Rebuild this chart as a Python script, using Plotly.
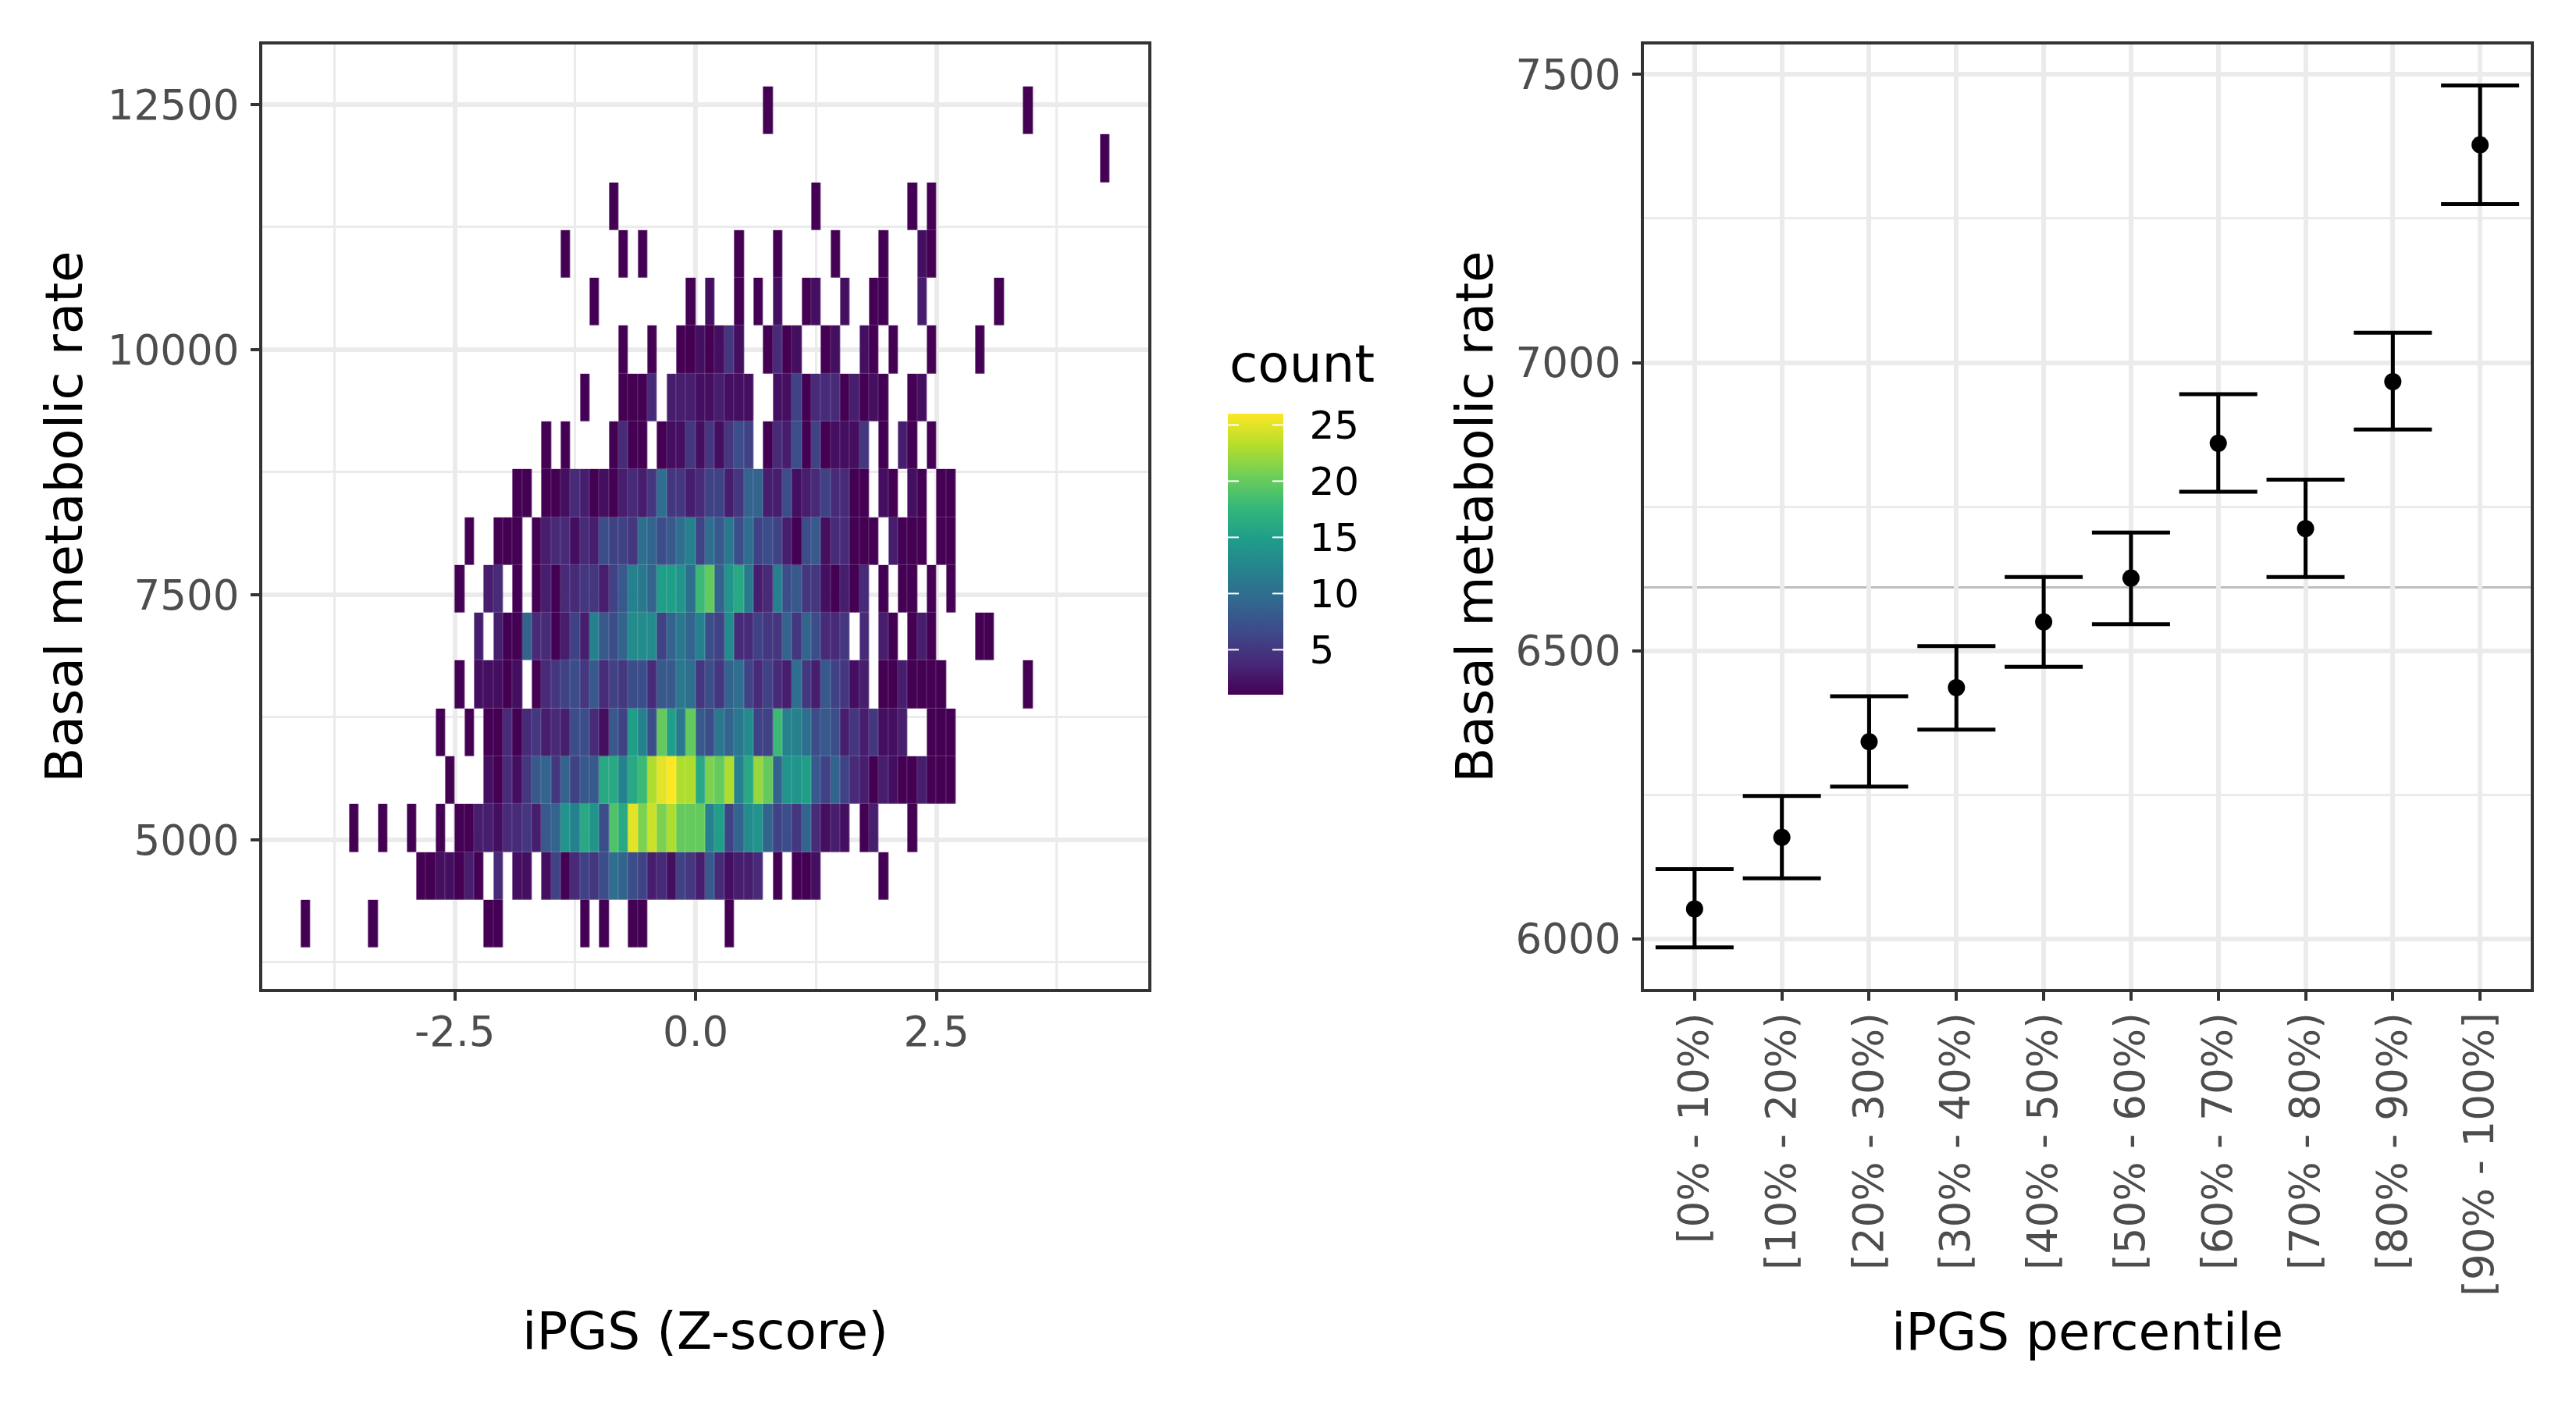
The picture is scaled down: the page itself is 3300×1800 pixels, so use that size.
import plotly.graph_objects as go

# Left panel: 2D histogram counts. Keys are the column index
# (column k spans k*0.1 .. (k+1)*0.1 of iPGS Z-score); one dict per row, bottom row first.
x_bin_width = 0.1
y_bin_bottom = 3901
y_bin_height = 488

row_00 = {-41:1,-34:1,-22:1,-21:1,-12:1,-10:1,-7:1,-6:1,3:1}
row_01 = {-29:1,-28:1,-27:2,-26:2,-25:1,-24:3,-23:1,-21:4,-19:2,-18:2,-16:2,-15:6,-14:1,-13:4,-12:6,-11:5,-10:7,-9:10,-8:9,-7:7,-6:6,-5:3,-4:4,-3:2,-2:6,-1:5,0:3,1:8,2:4,3:2,4:3,5:3,6:4,8:1,10:1,11:1,12:2,19:1}
row_02 = {-36:1,-33:1,-30:1,-27:1,-25:1,-24:1,-23:3,-22:3,-21:2,-20:4,-19:4,-18:5,-17:3,-16:8,-15:9,-14:14,-13:12,-12:16,-11:14,-10:7,-9:19,-8:16,-7:25,-6:21,-5:24,-4:21,-3:23,-2:20,-1:20,0:20,1:12,2:15,3:6,4:9,5:13,6:14,7:9,8:6,9:7,10:5,11:9,12:4,13:2,14:3,15:2,17:1,18:3,22:1}
row_03 = {-26:1,-22:2,-21:1,-20:4,-19:2,-18:5,-17:8,-16:9,-15:5,-14:9,-13:6,-12:8,-11:8,-10:16,-9:16,-8:12,-7:16,-6:18,-5:23,-4:25,-3:26,-2:23,-1:23,0:16,1:21,2:20,3:23,4:12,5:16,6:22,7:20,8:9,9:14,10:14,11:15,12:8,13:6,14:9,15:6,16:4,17:3,18:1,19:3,20:2,21:1,22:1,23:3,24:1,25:1,26:1}
row_04 = {-27:1,-24:1,-22:1,-21:1,-20:4,-19:1,-18:4,-17:5,-16:3,-15:4,-14:3,-13:7,-12:7,-11:4,-10:2,-9:8,-8:6,-7:15,-6:12,-5:7,-4:20,-3:15,-2:11,-1:20,0:8,1:7,2:11,3:9,4:11,5:13,6:6,7:6,8:18,9:12,10:12,11:10,12:7,13:8,14:7,15:3,16:5,17:3,18:5,19:2,20:2,21:3,24:1,25:1,26:1}
row_05 = {-25:1,-23:2,-22:2,-21:2,-20:1,-19:2,-17:1,-16:4,-15:5,-14:6,-13:7,-12:5,-11:8,-10:4,-9:6,-8:5,-7:7,-6:7,-5:4,-4:8,-3:8,-2:11,-1:10,0:5,1:7,2:5,3:9,4:10,5:6,6:4,7:6,8:4,9:3,10:10,11:5,12:3,13:8,14:6,15:5,16:2,17:3,19:1,20:1,21:3,22:1,23:1,24:1,25:1,34:1}
row_06 = {-23:3,-21:3,-20:1,-19:1,-18:9,-17:4,-16:4,-15:1,-14:3,-13:6,-12:3,-11:12,-10:8,-9:7,-8:9,-7:13,-6:13,-5:13,-4:6,-3:9,-2:11,-1:9,0:12,1:7,2:6,3:13,4:4,5:4,6:6,7:5,8:5,9:9,10:5,11:9,12:7,13:4,14:4,15:5,17:4,19:3,20:1,22:1,23:3,24:1,29:1,30:1}
row_07 = {-25:1,-22:3,-21:4,-19:1,-17:1,-16:3,-15:1,-14:4,-13:4,-12:5,-11:5,-10:3,-9:6,-8:8,-7:12,-6:11,-5:9,-4:15,-3:15,-2:14,-1:10,0:18,1:20,2:9,3:14,4:16,5:11,6:3,7:4,8:12,9:7,10:8,11:5,12:5,13:2,14:1,15:3,16:1,17:4,19:1,21:1,22:1,24:1,26:1}
row_08 = {-24:1,-21:1,-20:1,-19:1,-17:1,-16:3,-15:4,-14:4,-13:2,-12:4,-11:3,-10:7,-9:6,-8:6,-7:5,-6:10,-5:9,-4:7,-3:8,-2:10,-1:12,0:6,1:10,2:8,3:11,4:7,5:10,6:6,7:7,8:6,9:3,10:1,11:7,12:8,13:2,14:4,15:4,16:1,17:1,18:1,20:3,21:1,22:1,23:1,25:1,26:1}
row_09 = {-19:1,-18:1,-16:1,-15:1,-14:2,-13:4,-12:3,-11:1,-10:2,-9:1,-8:3,-7:4,-6:3,-5:5,-4:10,-3:5,-2:5,-1:3,0:4,1:6,2:6,3:3,4:5,5:9,6:9,7:3,8:3,9:7,10:2,11:3,12:4,13:6,14:4,15:4,16:1,17:1,19:2,20:1,22:2,23:1,25:1,26:1}
row_10 = {-16:1,-14:1,-9:1,-8:4,-7:1,-6:1,-4:1,-3:2,-2:2,-1:5,0:2,1:5,2:2,3:5,4:7,5:6,7:1,8:4,9:3,10:7,11:1,12:6,13:1,14:2,15:2,16:2,17:5,19:1,21:3,22:1,24:1}
row_11 = {-12:1,-8:1,-7:1,-6:1,-5:4,-3:3,-2:3,-1:3,0:2,1:2,2:3,3:2,4:2,5:2,8:2,9:2,10:6,11:1,12:4,13:4,14:4,15:1,16:3,17:1,18:2,19:1,22:1,23:2}
row_12 = {-8:1,-5:1,-2:1,-1:1,0:2,1:1,2:2,3:5,4:2,7:1,8:4,9:1,10:2,13:1,14:2,17:2,18:1,20:1,24:1,29:1}
row_13 = {-11:1,-1:1,1:2,4:1,6:1,8:2,11:1,12:2,15:2,18:1,19:1,23:3,31:1}
row_14 = {-14:1,-8:1,-6:1,4:1,8:1,14:1,19:1,23:2,24:1}
row_15 = {-9:1,12:1,22:1,24:1}
row_16 = {42:1}
row_17 = {7:1,34:1}
count_rows = [row_00,row_01,row_02,row_03,row_04,row_05,row_06,row_07,row_08,
              row_09,row_10,row_11,row_12,row_13,row_14,row_15,row_16,row_17]

z_major_ticks = [-2.5, 0, 2.5]
z_minor_ticks = [-3.75, -1.25, 1.25, 3.75]
bmr_major_ticks = [5000, 7500, 10000, 12500]
bmr_minor_ticks = [3750, 6250, 8750, 11250]
count_ticks = [5, 10, 15, 20, 25]

# Right panel
percentile_labels = ["[0% - 10%)","[10% - 20%)","[20% - 30%)","[30% - 40%)","[40% - 50%)",
                     "[50% - 60%)","[60% - 70%)","[70% - 80%)","[80% - 90%)","[90% - 100%]"]
mean_bmr = [6052, 6176, 6342, 6436, 6550, 6626, 6860, 6712, 6967, 7378]
upper_bmr = [6121, 6248, 6421, 6508, 6628, 6705, 6945, 6797, 7052, 7481]
lower_bmr = [5985, 6105, 6264, 6363, 6472, 6546, 6776, 6628, 6884, 7275]
overall_mean = 6610
pct_major_ticks = [6000, 6500, 7000, 7500]
pct_minor_ticks = [6250, 6750, 7250]

W, H = 3300, 1800
GRID = "#ebebeb"
INK = "#333333"
TICK_TXT = "#4d4d4d"
FONT = "DejaVu Sans"
TICK_SIZE = 53
TITLE_SIZE = 66

k_min = min(min(r) for r in count_rows)
k_max = max(max(r) for r in count_rows)
cols = list(range(k_min, k_max + 1))
x_centers = [(k + 0.5) * x_bin_width for k in cols]
y_centers = [y_bin_bottom + (i + 0.5) * y_bin_height for i in range(len(count_rows))]
z = [[r.get(k) for k in cols] for r in count_rows]

CB_LEFT, CB_RIGHT, CB_TOP, CB_BOTTOM = 1573, 1644, 530, 890
Z_MIN, Z_MAX = 1, 26

fig = go.Figure()
fig.add_trace(go.Heatmap(
    x=x_centers, y=y_centers, z=z, xaxis="x", yaxis="y", xgap=0.2, ygap=0.2,
    colorscale="Viridis", zmin=Z_MIN, zmax=Z_MAX, hoverongaps=False,
    colorbar=dict(
        x=CB_LEFT / W, xanchor="left", xpad=0, ypad=0,
        y=1 - CB_BOTTOM / H, yanchor="bottom",
        len=(CB_BOTTOM - CB_TOP) / H, lenmode="fraction",
        thickness=CB_RIGHT - CB_LEFT, thicknessmode="pixels",
        # outside ticks in white only set the label offset; the visible white
        # marks on the bar are drawn below
        outlinewidth=0, tickvals=count_ticks, ticks="outside", ticklen=24,
        tickwidth=1, tickcolor="white",
        tickfont=dict(family=FONT, size=50, color="black"),
    ),
))

fig.add_trace(go.Scatter(
    x=percentile_labels, y=mean_bmr, xaxis="x2", yaxis="y2", mode="markers",
    marker=dict(color="black", size=22),
    error_y=dict(type="data", symmetric=False,
                 array=[u - m for u, m in zip(upper_bmr, mean_bmr)],
                 arrayminus=[m - l for m, l in zip(mean_bmr, lower_bmr)],
                 color="black", thickness=5, width=50),
    showlegend=False,
))

def axis_style(title, standoff, label_standoff):
    return dict(
        showgrid=True, gridcolor=GRID, gridwidth=6, zeroline=False,
        showline=True, mirror=True, linecolor=INK, linewidth=4,
        ticks="outside", ticklen=11, tickwidth=4, tickcolor=INK,
        ticklabelstandoff=label_standoff,
        tickfont=dict(family=FONT, size=TICK_SIZE, color=TICK_TXT),
        title=dict(text=title, standoff=standoff, font=dict(family=FONT, size=TITLE_SIZE, color="black")),
        automargin=False,
    )

def minor(vals):
    return dict(tickvals=vals, showgrid=True, gridcolor=GRID, gridwidth=3, ticks="")

fig.update_layout(
    width=W, height=H, paper_bgcolor="white", plot_bgcolor="white",
    margin=dict(l=0, r=0, t=0, b=0), showlegend=False,
    font=dict(family=FONT),
    xaxis=dict(axis_style("iPGS (Z-score)", 332, -6), anchor="y", domain=[336 / W, 1471 / W],
               range=[-4.5, 4.7], tickvals=z_major_ticks, ticktext=["-2.5", "0.0", "2.5"],
               minor=minor(z_minor_ticks)),
    yaxis=dict(axis_style("Basal metabolic rate", 12, 4), anchor="x", domain=[1 - 1267 / H, 1 - 57 / H],
               range=[3479, 13113], tickvals=bmr_major_ticks, tickformat="d", minor=minor(bmr_minor_ticks)),
    xaxis2=dict(axis_style("iPGS percentile", 24, -6), anchor="y2", domain=[2106 / W, 3242 / W],
                type="category", range=[-0.58, 9.58], tickangle=-90,
                categoryorder="array", categoryarray=percentile_labels),
    yaxis2=dict(axis_style("Basal metabolic rate", 8, 4), anchor="x2", domain=[1 - 1267 / H, 1 - 57 / H],
                range=[5913, 7552], tickvals=pct_major_ticks, tickformat="d", minor=minor(pct_minor_ticks)),
    annotations=[dict(text="count", xref="paper", yref="paper", x=CB_LEFT / W, y=1 - 467 / H,
                      xanchor="left", yanchor="middle", showarrow=False,
                      font=dict(family=FONT, size=TITLE_SIZE, color="black"))],
)

# Reference line at the overall mean
fig.add_shape(type="line", xref="x2 domain", yref="y2", x0=0, x1=1,
              y0=overall_mean, y1=overall_mean, line=dict(color="#bebebe", width=3), layer="below")

# Colourbar tick marks on both sides of the bar, as ggplot draws them
for t in count_ticks:
    yp = (t - Z_MIN) / (Z_MAX - Z_MIN) * (CB_BOTTOM - CB_TOP) / H + 1 - CB_BOTTOM / H
    for x_start, x_end in ((CB_LEFT, CB_LEFT + 14), (CB_RIGHT - 14, CB_RIGHT)):
        fig.add_shape(type="line", xref="paper", yref="paper", x0=x_start / W, x1=x_end / W,
                      y0=yp, y1=yp, line=dict(color="white", width=2), layer="above")

# Plotly stacks the colourbar over its "above" shapes; raise that layer so the marks show.
raise_layer = """
document.body.style.margin='0';
var above = document.querySelector('.layer-above');
if (above) { above.parentNode.appendChild(above); }
"""
fig.write_html("out.html", config=dict(displayModeBar=False), post_script=raise_layer)
